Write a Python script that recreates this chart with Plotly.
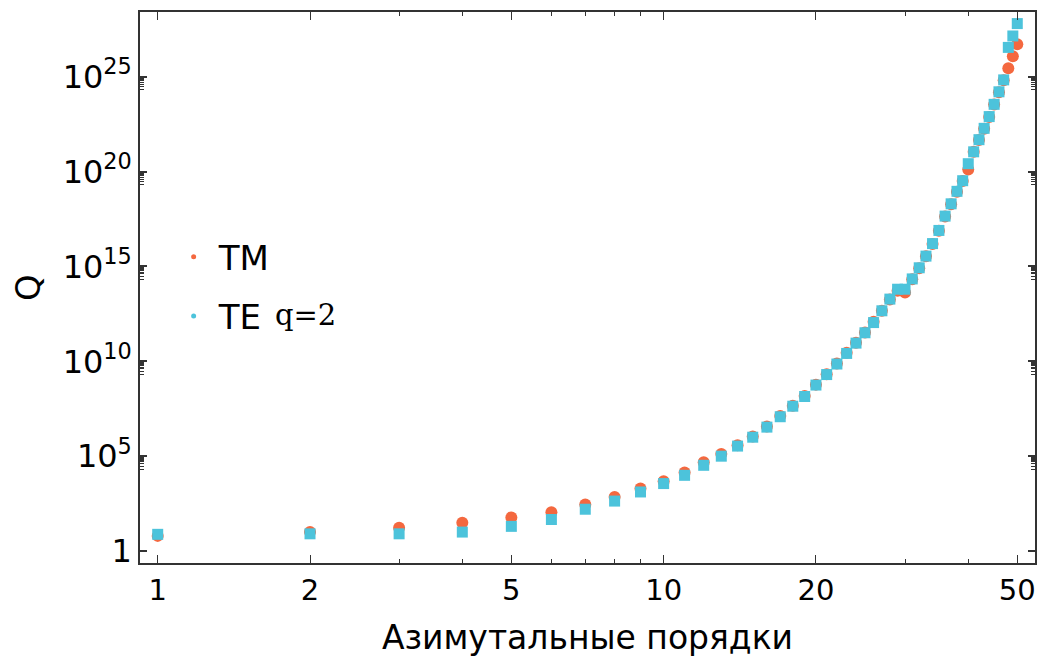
import plotly.graph_objects as go

# Azimuthal orders
orders = list(range(1, 51))

# Q values
q_tm = [6.3, 1.0e1, 1.7e1, 3.1e1, 5.9e1, 1.1e2, 2.8e2, 7.1e2, 2.0e3, 4.8e3,
        1.4e4, 4.8e4, 1.3e5, 3.8e5, 1.1e6, 3.7e6, 1.3e7, 4.5e7, 1.5e8, 5.9e8,
        2.1e9, 7.6e9, 2.8e10, 9.5e10, 3.3e11, 1.2e12, 4.6e12, 1.8e13, 5.2e13, 4.2e13,
        2.1e14, 8.1e14, 3.4e15, 1.5e16, 7.6e16, 4.3e17, 1.9e18, 8.7e18, 3.2e19, 1.3e20,
        1.1e21, 4.6e21, 1.8e22, 7.6e22, 3.4e23, 1.5e24, 6.5e24, 2.8e25, 1.2e26, 5.2e26]

q_te = [7.6, 8.1, 8.1, 1.0e1, 2.0e1, 4.6e1, 1.6e2, 4.3e2, 1.3e3, 3.6e3,
        9.8e3, 3.3e4, 1.0e5, 3.4e5, 1.0e6, 3.4e6, 1.2e7, 4.3e7, 1.4e8, 5.6e8,
        2.0e9, 7.2e9, 2.6e10, 9.1e10, 3.2e11, 1.1e12, 4.6e12, 1.9e13, 6.3e13, 6.3e13,
        2.2e14, 8.5e14, 3.5e15, 1.6e16, 7.9e16, 4.5e17, 2.0e18, 9.1e18, 3.3e19, 2.6e20,
        1.1e21, 4.8e21, 1.9e22, 7.9e22, 3.5e23, 1.6e24, 6.8e24, 3.5e26, 1.4e27, 6.3e27]

x_tickvals = [1, 2, 5, 10, 20, 50]
x_ticktext = ["1", "2", "5", "10", "20", "50"]
x_minor = [3, 4, 6, 7, 8, 9, 30, 40]

y_exponents = [0, 5, 10, 15, 20, 25]
y_tickvals = [10.0 ** e for e in y_exponents]
y_ticktext = ["1" if e == 0 else "10<sup>%d</sup>" % e for e in y_exponents]
y_minor = [m * 10.0 ** (e - 1) for e in y_exponents[1:] for m in range(2, 10)]

RED = "#F4683F"
CYAN = "#4CC3DB"
FONT = "DejaVu Sans"

fig = go.Figure()
fig.add_trace(go.Scatter(x=orders, y=q_tm, mode="markers", showlegend=False,
                         marker=dict(symbol="circle", size=12, color=RED)))
fig.add_trace(go.Scatter(x=orders, y=q_te, mode="markers", showlegend=False,
                         marker=dict(symbol="square", size=11, color=CYAN)))
# legend entries
fig.add_trace(go.Scatter(x=[None], y=[None], mode="markers", name="TM", legendgroup="a",
                         marker=dict(symbol="circle", size=5, color=RED)))
fig.add_trace(go.Scatter(x=[None], y=[None], mode="markers", name="TE", legendgroup="b",
                         marker=dict(symbol="circle", size=5, color=CYAN)))

axis_common = dict(showline=True, linecolor="#333", linewidth=1.5, mirror="ticks",
                   ticks="inside", tickcolor="#333", showgrid=False, zeroline=False)

fig.update_layout(
    width=1038, height=655,
    margin=dict(l=132, r=11, t=2, b=100),
    paper_bgcolor="white", plot_bgcolor="white",
    font=dict(family=FONT, color="black"),
    xaxis=dict(type="log", range=[-0.035, 1.734], tickvals=x_tickvals, ticktext=x_ticktext,
               ticklen=8, tickwidth=1.3, tickfont=dict(size=29),
               minor=dict(tickvals=x_minor, ticklen=4, tickwidth=1.2, ticks="inside", tickcolor="#333"),
               title=dict(text="Азимутальные порядки", font=dict(size=33), standoff=20),
               **axis_common),
    yaxis=dict(type="log", range=[-0.63, 28.41], tickvals=y_tickvals, ticktext=y_ticktext,
               ticklen=7, tickwidth=1.6, tickfont=dict(size=32),
               minor=dict(tickvals=y_minor, ticklen=4, tickwidth=1.2, ticks="inside", tickcolor="#333"),
               title=dict(text="Q", font=dict(size=34), standoff=12),
               **axis_common),
    legend=dict(x=0.032, y=0.6076, xanchor="left", yanchor="top", font=dict(size=34),
                itemwidth=40, tracegroupgap=12, bgcolor="rgba(0,0,0,0)"),
    annotations=[dict(text="q=2", xref="paper", yref="paper", x=0.1486, y=0.45,
                      xanchor="left", yanchor="middle", showarrow=False,
                      font=dict(family="DejaVu Serif", size=29, color="black"))],
)

fig.write_html("out.html")
